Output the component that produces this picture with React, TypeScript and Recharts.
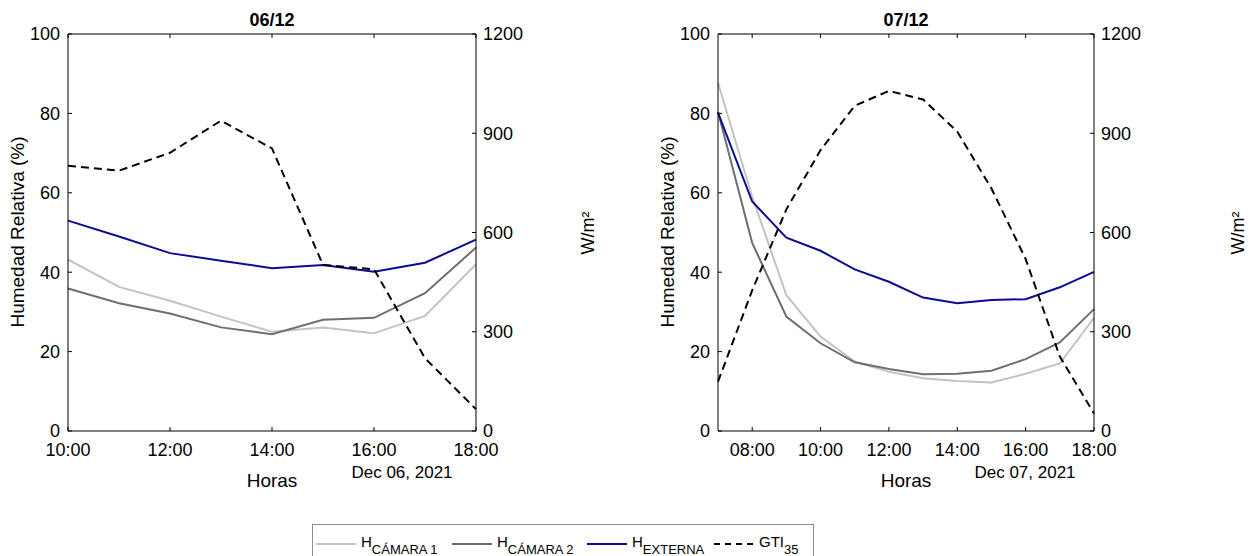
import React from "react";
import { Line, LineChart, XAxis, YAxis } from "recharts";

// humedad relativa (%) y GTI (W/m²) por hora
const hours06 = [10, 11, 12, 13, 14, 15, 16, 17, 18];
const camara1_06 = [43.2, 36.3, 32.8, 28.8, 25.0, 26.1, 24.6, 29.0, 42.0];
const camara2_06 = [35.9, 32.2, 29.6, 26.1, 24.4, 28.0, 28.5, 34.7, 46.2];
const externa06 = [53.0, 49.0, 44.8, 42.9, 41.0, 41.8, 40.1, 42.4, 48.2];
const gti06 = [802, 787, 841, 938, 854, 502, 489, 220, 66];

const hours07 = [7, 8, 9, 10, 11, 12, 13, 14, 15, 16, 17, 18];
const camara1_07 = [87.7, 59.0, 34.2, 23.8, 17.5, 14.9, 13.3, 12.6, 12.2, 14.4, 17.0, 28.5];
const camara2_07 = [80.4, 47.4, 28.8, 22.1, 17.3, 15.6, 14.3, 14.4, 15.2, 18.1, 22.3, 30.7];
const externa07 = [80.2, 57.8, 48.7, 45.4, 40.7, 37.6, 33.6, 32.2, 33.0, 33.2, 36.2, 40.1];
const gti07 = [149, 425, 670, 849, 983, 1028, 1002, 905, 733, 520, 225, 53];

const ticks06 = [10, 12, 14, 16, 18];
const ticks07 = [8, 10, 12, 14, 16, 18];
const rhTicks = [0, 20, 40, 60, 80, 100];
const gtiTicks = [0, 300, 600, 900, 1200];

const C1 = "#c3c3c3";
const C2 = "#6f6f6f";
const EXT = "#0c0c92";
const GTI = "#000000";
const DASH = "8 5";

const legendItems = [
  { name: "H", sub: "CÁMARA 1", color: C1, dash: undefined },
  { name: "H", sub: "CÁMARA 2", color: C2, dash: undefined },
  { name: "H", sub: "EXTERNA", color: EXT, dash: undefined },
  { name: "GTI", sub: "35", color: GTI, dash: "6 5" },
];

const font = "'Liberation Sans', Arial, sans-serif";
const tickStyle = { fill: "#000", fontSize: 18 };

const fmtHour = (h: number) => `${String(h).padStart(2, "0")}:00`;

type PanelProps = {
  left: number;
  width: number;
  plotWidth: number;
  title: string;
  date: string;
  dateX: number;
  unitX: number;
  hours: number[];
  c1: number[];
  c2: number[];
  ext: number[];
  gti: number[];
  ticks: number[];
};

function Panel({ left, width, plotWidth, title, date, dateX, unitX, hours, c1, c2, ext, gti, ticks }: PanelProps) {
  const data = hours.map((h, i) => ({ hour: h, c1: c1[i], c2: c2[i], ext: ext[i], gti: gti[i] }));
  const leftW = 68;
  const rightW = width - leftW - plotWidth;
  const cx = leftW + plotWidth / 2;
  const dom: [number, number] = [hours[0], hours[hours.length - 1]];
  return (
    <div style={{ position: "absolute", left, top: 0, width, height: 500 }}>
      <LineChart width={width} height={500} data={data} margin={{ top: 4, right: 0, left: 0, bottom: 0 }}>
        <XAxis
          xAxisId="b"
          dataKey="hour"
          type="number"
          domain={dom}
          ticks={ticks}
          interval={0}
          height={69}
          tickSize={-4}
          tickMargin={16}
          tickFormatter={fmtHour}
          tick={tickStyle}
          axisLine={{ stroke: "#000" }}
          tickLine={{ stroke: "#000" }}
        />
        <XAxis
          xAxisId="t"
          orientation="top"
          dataKey="hour"
          type="number"
          domain={dom}
          ticks={ticks}
          interval={0}
          height={30}
          tickSize={-4}
          tickFormatter={() => ""}
          axisLine={{ stroke: "#000" }}
          tickLine={{ stroke: "#000" }}
        />
        <YAxis
          yAxisId="rh"
          domain={[0, 100]}
          ticks={rhTicks}
          interval={0}
          width={leftW}
          tickSize={-4}
          tickMargin={12}
          tick={tickStyle}
          axisLine={{ stroke: "#000" }}
          tickLine={{ stroke: "#000" }}
        />
        <YAxis
          yAxisId="gti"
          orientation="right"
          domain={[0, 1200]}
          ticks={gtiTicks}
          interval={0}
          width={rightW}
          tickSize={-4}
          tickMargin={11}
          tick={{ ...tickStyle, textAnchor: "start" }}
          axisLine={{ stroke: "#000" }}
          tickLine={{ stroke: "#000" }}
        />
        <Line xAxisId="b" yAxisId="rh" type="linear" dataKey="c1" stroke={C1} strokeWidth={2} dot={false} isAnimationActive={false} />
        <Line xAxisId="b" yAxisId="rh" type="linear" dataKey="c2" stroke={C2} strokeWidth={2} dot={false} isAnimationActive={false} />
        <Line xAxisId="b" yAxisId="rh" type="linear" dataKey="ext" stroke={EXT} strokeWidth={2} dot={false} isAnimationActive={false} />
        <Line xAxisId="b" yAxisId="gti" type="linear" dataKey="gti" stroke={GTI} strokeWidth={2} strokeDasharray={DASH} dot={false} isAnimationActive={false} />
      </LineChart>
      <div style={{ position: "absolute", left: cx, top: 20, transform: "translate(-50%,-50%)", fontWeight: "bold", fontSize: 18 }}>
        {title}
      </div>
      <div style={{ position: "absolute", left: cx, top: 481, transform: "translate(-50%,-50%)", fontSize: 19 }}>Horas</div>
      <div style={{ position: "absolute", left: dateX, top: 473, transform: "translate(-50%,-50%)", fontSize: 17, whiteSpace: "nowrap" }}>
        {date}
      </div>
      <div style={{ position: "absolute", left: 18, top: 232, transform: "translate(-50%,-50%) rotate(-90deg)", fontSize: 19, whiteSpace: "nowrap" }}>
        Humedad Relativa (%)
      </div>
      <div style={{ position: "absolute", left: unitX, top: 233, transform: "translate(-50%,-50%) rotate(-90deg)", fontSize: 18, whiteSpace: "nowrap" }}>
        W/m²
      </div>
    </div>
  );
}

function LegendBox() {
  const starts = [316, 452, 587, 714];
  return (
    <svg width={1256} height={556} style={{ position: "absolute", left: 0, top: 0, pointerEvents: "none" }}>
      <rect x={312.5} y={524.5} width={501} height={40} fill="#fff" stroke="#8c8c8c" />
      {legendItems.map((it, i) => (
        <g key={it.sub}>
          <line x1={starts[i]} x2={starts[i] + 40} y1={544} y2={544} stroke={it.color} strokeWidth={2} strokeDasharray={it.dash} />
          <text x={starts[i] + 45} y={547} fontSize={15} fill="#000" fontFamily={font}>
            {it.name}
            <tspan fontSize={13} dy={7}>{it.sub}</tspan>
          </text>
        </g>
      ))}
    </svg>
  );
}

export default function App() {
  return (
    <div style={{ position: "fixed", left: 0, top: 0, width: 1256, height: 556, background: "#fff", fontFamily: font, color: "#000" }}>
      <Panel
        left={0}
        width={600}
        plotWidth={408}
        title="06/12"
        date="Dec 06, 2021"
        dateX={402}
        unitX={588}
        hours={hours06}
        c1={camara1_06}
        c2={camara2_06}
        ext={externa06}
        gti={gti06}
        ticks={ticks06}
      />
      <Panel
        left={650}
        width={606}
        plotWidth={376}
        title="07/12"
        date="Dec 07, 2021"
        dateX={375}
        unitX={588}
        hours={hours07}
        c1={camara1_07}
        c2={camara2_07}
        ext={externa07}
        gti={gti07}
        ticks={ticks07}
      />
      <LegendBox />
    </div>
  );
}
